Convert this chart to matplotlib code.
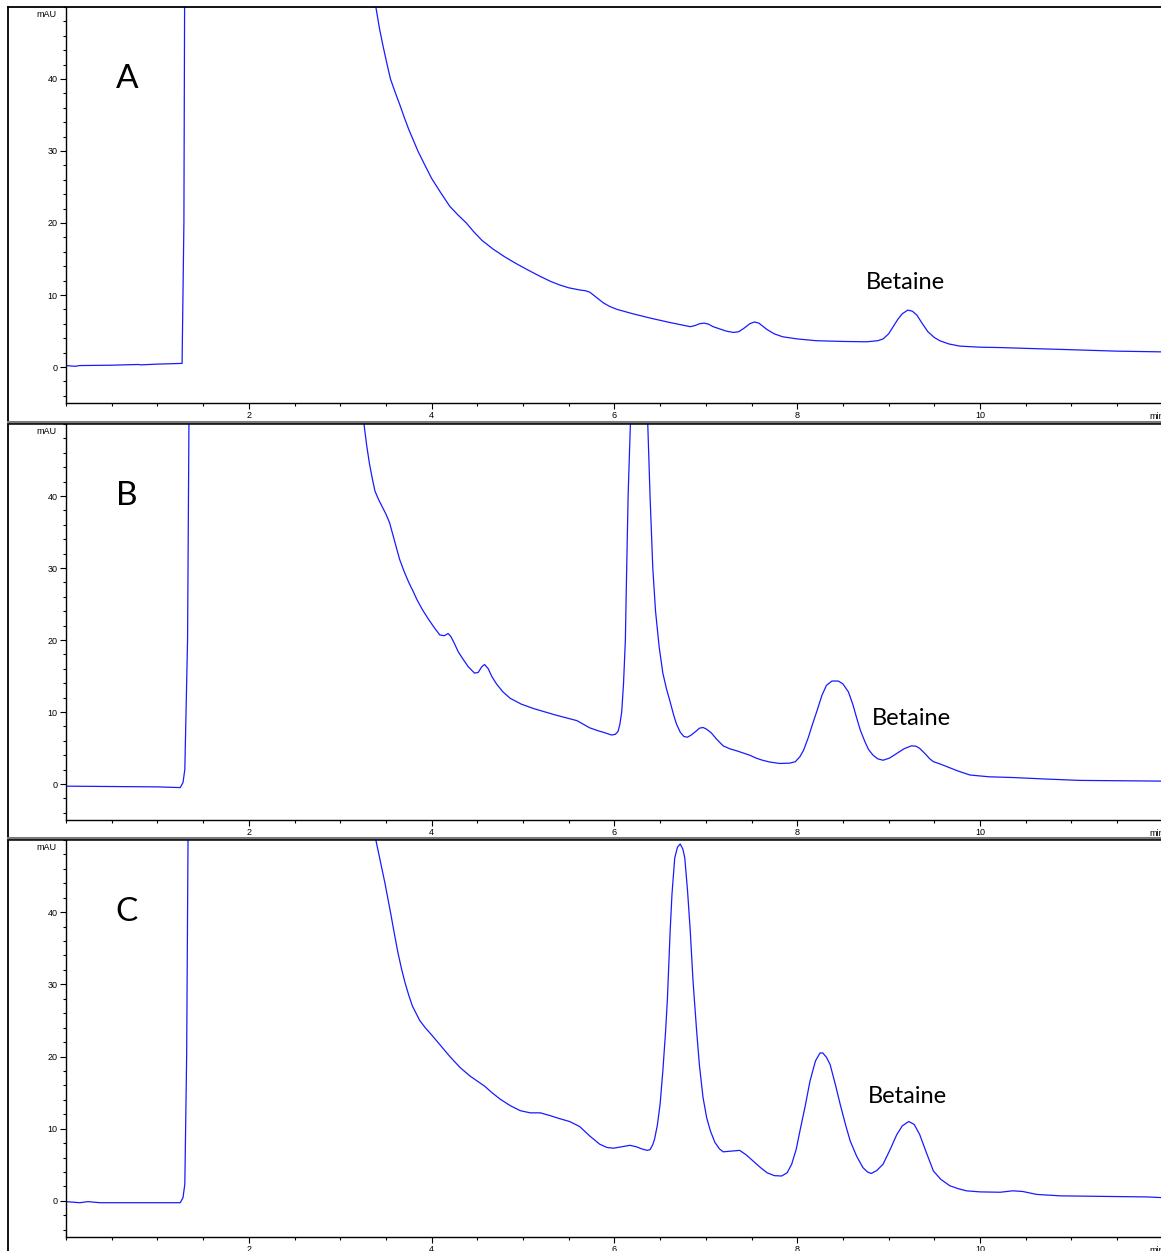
import numpy as np
import matplotlib.pyplot as plt
from matplotlib.lines import Line2D
from matplotlib.ticker import MultipleLocator

# chromatogram traces: (time min, mAU); 60/70 = off scale
trace_a = [(0.0, 0.2), (0.1, 0.1), (0.15, 0.2), (0.5, 0.25), (0.79, 0.35), (0.82, 0.3),
           (1.0, 0.4), (1.27, 0.5), (1.29, 20), (1.30, 60), (3.30, 60), (3.39, 50),
           (3.43, 47), (3.47, 44.5), (3.51, 42.2), (3.55, 40), (3.60, 38.2), (3.65, 36.5),
           (3.70, 34.7), (3.75, 33), (3.80, 31.5), (3.85, 30), (3.92, 28.2), (4.0, 26.2),
           (4.1, 24.2), (4.2, 22.3), (4.29, 21.1), (4.38, 20), (4.46, 18.8), (4.55, 17.6),
           (4.67, 16.4), (4.8, 15.3), (4.92, 14.4), (5.05, 13.5), (5.17, 12.7), (5.30, 11.9),
           (5.40, 11.4), (5.50, 11.0), (5.62, 10.7), (5.68, 10.6), (5.73, 10.4), (5.80, 9.7),
           (5.88, 8.9), (5.95, 8.4), (6.03, 8.0), (6.2, 7.4), (6.39, 6.8), (6.6, 6.2),
           (6.83, 5.6), (6.88, 5.75), (6.93, 6.0), (6.98, 6.1), (7.03, 5.95), (7.08, 5.6),
           (7.15, 5.3), (7.22, 5.0), (7.30, 4.8), (7.36, 4.9), (7.42, 5.4), (7.48, 6.0),
           (7.53, 6.25), (7.58, 6.1), (7.63, 5.6), (7.67, 5.2), (7.75, 4.6), (7.84, 4.2),
           (8.0, 3.9), (8.21, 3.65), (8.5, 3.55), (8.76, 3.5), (8.88, 3.65), (8.94, 3.9),
           (9.0, 4.6), (9.05, 5.6), (9.10, 6.6), (9.15, 7.4), (9.21, 7.9), (9.26, 7.75),
           (9.31, 7.2), (9.37, 6.0), (9.43, 4.9), (9.50, 4.1), (9.56, 3.65), (9.66, 3.2),
           (9.78, 2.9), (10.0, 2.75), (10.22, 2.7), (10.6, 2.55), (11.0, 2.4), (11.5, 2.2),
           (12.0, 2.1)]

trace_b = [(0.0, -0.3), (0.5, -0.35), (1.0, -0.4), (1.25, -0.5), (1.28, 0.2), (1.30, 2.0),
           (1.33, 20), (1.35, 60), (3.20, 60), (3.26, 50), (3.29, 47), (3.32, 44.5),
           (3.35, 42.5), (3.38, 40.7), (3.42, 39.5), (3.46, 38.5), (3.50, 37.5), (3.54, 36.3),
           (3.59, 34), (3.65, 31.2), (3.70, 29.5), (3.75, 28), (3.80, 26.7), (3.84, 25.6),
           (3.90, 24.2), (3.96, 23), (4.03, 21.7), (4.09, 20.7), (4.14, 20.6), (4.18, 20.9),
           (4.21, 20.5), (4.25, 19.5), (4.29, 18.4), (4.33, 17.6), (4.40, 16.3), (4.47, 15.4),
           (4.51, 15.5), (4.55, 16.3), (4.58, 16.6), (4.62, 16.0), (4.66, 14.9), (4.71, 13.9),
           (4.78, 12.8), (4.86, 11.9), (4.98, 11.1), (5.11, 10.5), (5.35, 9.6), (5.59, 8.8),
           (5.66, 8.3), (5.73, 7.8), (5.82, 7.4), (5.90, 7.1), (5.97, 6.8), (6.01, 6.9),
           (6.04, 7.3), (6.06, 8.3), (6.08, 10.0), (6.10, 14), (6.12, 20), (6.13, 27),
           (6.15, 40), (6.20, 60), (6.27, 70), (6.34, 60), (6.39, 40), (6.42, 30),
           (6.45, 24), (6.49, 19), (6.53, 15.4), (6.57, 13.2), (6.61, 11.4), (6.65, 9.5),
           (6.68, 8.3), (6.72, 7.2), (6.76, 6.6), (6.80, 6.5), (6.84, 6.8), (6.89, 7.3),
           (6.93, 7.75), (6.97, 7.85), (7.01, 7.6), (7.06, 7.1), (7.12, 6.2), (7.19, 5.3),
           (7.26, 4.9), (7.34, 4.6), (7.41, 4.3), (7.48, 4.0), (7.55, 3.6), (7.62, 3.3),
           (7.70, 3.05), (7.81, 2.85), (7.92, 2.9), (7.98, 3.1), (8.03, 3.8), (8.07, 4.7),
           (8.12, 6.4), (8.17, 8.4), (8.22, 10.3), (8.27, 12.3), (8.32, 13.7), (8.38, 14.3),
           (8.45, 14.3), (8.50, 13.9), (8.56, 12.8), (8.61, 11.0), (8.65, 9.2), (8.69, 7.5),
           (8.74, 5.9), (8.78, 4.8), (8.83, 4.0), (8.88, 3.5), (8.94, 3.3), (9.01, 3.6),
           (9.09, 4.25), (9.17, 4.9), (9.25, 5.3), (9.30, 5.25), (9.34, 4.95), (9.40, 4.2),
           (9.45, 3.5), (9.49, 3.1), (9.56, 2.8), (9.64, 2.4), (9.76, 1.8), (9.89, 1.25),
           (10.1, 1.0), (10.36, 0.9), (10.7, 0.7), (11.09, 0.5), (12.0, 0.4)]

trace_c = [(0.0, -0.1), (0.15, -0.25), (0.24, -0.1), (0.37, -0.25), (0.6, -0.25), (1.0, -0.25),
           (1.25, -0.25), (1.28, 0.45), (1.30, 2.3), (1.32, 20), (1.34, 60), (3.30, 60),
           (3.39, 50), (3.44, 47), (3.49, 44), (3.52, 42), (3.55, 40), (3.59, 37.2),
           (3.63, 34.5), (3.67, 32.2), (3.71, 30.2), (3.75, 28.5), (3.79, 27), (3.83, 26),
           (3.87, 25), (3.93, 24), (4.0, 23), (4.1, 21.5), (4.2, 20), (4.31, 18.5),
           (4.42, 17.3), (4.50, 16.6), (4.58, 15.9), (4.66, 15.0), (4.75, 14.1), (4.86, 13.2),
           (4.97, 12.5), (5.08, 12.2), (5.19, 12.2), (5.30, 11.8), (5.40, 11.4), (5.51, 11.0),
           (5.62, 10.3), (5.73, 9.0), (5.84, 7.85), (5.92, 7.4), (5.99, 7.3), (6.08, 7.5),
           (6.17, 7.7), (6.24, 7.5), (6.30, 7.2), (6.36, 7.0), (6.39, 7.1), (6.42, 7.8),
           (6.44, 8.6), (6.47, 10.5), (6.50, 13.4), (6.53, 18), (6.56, 23.5), (6.58, 28),
           (6.61, 37.4), (6.63, 42.5), (6.66, 47.5), (6.69, 49.0), (6.72, 49.45), (6.75, 48.7),
           (6.77, 47.5), (6.80, 43), (6.83, 37.4), (6.86, 30.5), (6.90, 23.5), (6.93, 18.8),
           (6.97, 14.3), (7.01, 11.5), (7.05, 9.7), (7.10, 8.1), (7.15, 7.2), (7.19, 6.8),
           (7.28, 6.9), (7.37, 7.0), (7.44, 6.4), (7.52, 5.5), (7.60, 4.6), (7.67, 3.9),
           (7.75, 3.5), (7.83, 3.45), (7.89, 3.9), (7.94, 5.1), (7.99, 7.2), (8.03, 9.7),
           (8.09, 13.3), (8.14, 16.6), (8.20, 19.4), (8.25, 20.5), (8.28, 20.5), (8.32, 19.9),
           (8.36, 18.9), (8.42, 16.0), (8.47, 13.4), (8.53, 10.5), (8.58, 8.3), (8.65, 6.2),
           (8.72, 4.6), (8.77, 4.0), (8.81, 3.8), (8.87, 4.2), (8.94, 5.1), (9.02, 7.2),
           (9.09, 9.2), (9.15, 10.4), (9.22, 11.0), (9.28, 10.6), (9.34, 9.2), (9.41, 6.8),
           (9.49, 4.15), (9.57, 3.0), (9.67, 2.1), (9.76, 1.7), (9.85, 1.4), (10.0, 1.25),
           (10.22, 1.2), (10.36, 1.4), (10.47, 1.3), (10.62, 0.9), (10.88, 0.7), (11.5, 0.6),
           (11.83, 0.55), (12.0, 0.45)]

panel_names = ['A', 'B', 'C']
betaine_pos = [(8.75, 11.7), (8.82, 9.1), (8.77, 14.4)]
y_ticks = [0, 10, 20, 30, 40]
x_ticks = [2, 4, 6, 8, 10]

W, H = 1161, 1251
fig = plt.figure(figsize=(W / 100, H / 100), dpi=100)

# axes pixel extents: (top, bottom)
panel_px = [(7, 403), (424, 820), (840, 1237)]
x_left = 66
px_per_min = 91.4


def fline(x0, y0, x1, y1, **kw):
    fig.add_artist(Line2D([x0 / W, x1 / W], [1 - y0 / H, 1 - y1 / H],
                          transform=fig.transFigure, **kw))


for i, trace in enumerate([trace_a, trace_b, trace_c]):
    top, bot = panel_px[i]
    ax = fig.add_axes([x_left / W, 1 - bot / H, 12 * px_per_min / W, (bot - top) / H])
    data = np.array(trace)
    ax.plot(data[:, 0], data[:, 1], color='#1a1aff', lw=0.9)
    ax.set_xlim(0, 12)
    ax.set_ylim(-5, 50)
    for s in ['top', 'right']:
        ax.spines[s].set_visible(False)
    for s in ['left', 'bottom']:
        ax.spines[s].set_linewidth(1.0)
    ax.set_yticks(y_ticks)
    ax.set_xticks(x_ticks)
    ax.yaxis.set_minor_locator(MultipleLocator(2))
    ax.xaxis.set_minor_locator(MultipleLocator(0.5))
    ax.tick_params(which='major', length=4, width=0.8, labelsize=6.5, pad=2)
    ax.tick_params(which='minor', length=2.2, width=0.8)
    for lab in ax.get_xticklabels() + ax.get_yticklabels():
        lab.set_family('Liberation Sans')
    ax.text(-0.1, 49, 'mAU', ha='right', va='center', fontsize=6.5,
            family='Liberation Sans')
    ax.text(11.93, -6.9, 'min', ha='center', va='center', fontsize=6.5,
            family='Liberation Sans', clip_on=False)
    ax.text(0.667, 40, panel_names[i], ha='center', va='center', fontsize=24,
            family='Lato')
    bx, by = betaine_pos[i]
    ax.text(bx, by, 'Betaine', ha='left', va='center', fontsize=17, family='Lato')

# panel frames
fline(8, 7, 8, H, color='black', lw=1.3)
fline(8, 7, W, 7, color='black', lw=1.3)
for y in [422, 838]:
    fline(8, y, W, y, color='#7a7a7a', lw=2.2)
    fline(8, y + 2.3, W, y + 2.3, color='black', lw=1.1)

fig.savefig('out.png', dpi=100)
